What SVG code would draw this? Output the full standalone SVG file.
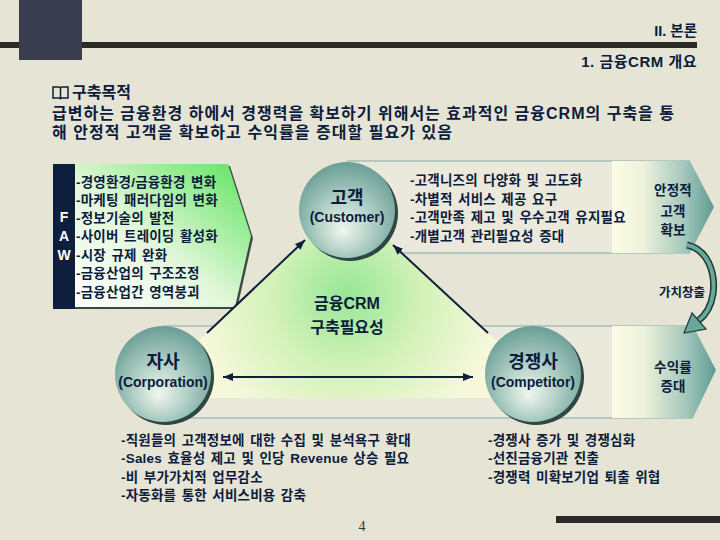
<svg xmlns="http://www.w3.org/2000/svg" width="720" height="540" viewBox="0 0 720 540">
<style>
.t{font-family:"Liberation Sans","Noto Sans CJK KR",sans-serif;font-weight:bold;fill:#0c1c3c}
.h{font-size:16px}
.s{font-size:13.5px;letter-spacing:0.2px;word-spacing:1.5px}
.c{text-anchor:middle}
.band{fill:#ebe9dc}
.bl{stroke:#a7beb5;stroke-width:1.5;fill:none}
.conn{stroke:#0f1e3a;stroke-width:2;fill:none}
.sh{fill:#2e4743}
</style>
<defs>
<marker id="ah" viewBox="0 0 10 8" refX="10" refY="4" markerWidth="10" markerHeight="8" markerUnits="userSpaceOnUse" orient="auto-start-reverse">
<path d="M0,0 L10,4 L0,8 z" fill="#0f1e3a"/>
</marker>
<radialGradient id="ball" cx="0.5" cy="0.6" r="0.6" fx="0.45" fy="0.72">
<stop offset="0" stop-color="#f0f7ee"/>
<stop offset="0.45" stop-color="#b4d2c8"/>
<stop offset="1" stop-color="#6a9e96"/>
</radialGradient>
<linearGradient id="faw" x1="0" y1="1" x2="1" y2="0">
<stop offset="0" stop-color="#ffffff"/>
<stop offset="0.45" stop-color="#e2f7da"/>
<stop offset="1" stop-color="#5ce35c"/>
</linearGradient>
<linearGradient id="panel" x1="0" y1="0" x2="1" y2="0">
<stop offset="0" stop-color="#fcfbe6"/>
<stop offset="0.3" stop-color="#eef3dc"/>
<stop offset="0.7" stop-color="#a5c8bd"/>
<stop offset="1" stop-color="#5e9c92"/>
</linearGradient>
<radialGradient id="tri" gradientUnits="userSpaceOnUse" cx="347" cy="295" r="150">
<stop offset="0" stop-color="#96e696"/>
<stop offset="0.5" stop-color="#d3f2b8"/>
<stop offset="1" stop-color="#f6f8dc"/>
</radialGradient>
</defs>

<rect width="720" height="540" fill="#e6e4d5"/>

<g id="header">
<rect x="19" y="0" width="63" height="60" fill="#3a3c50"/>
<rect x="0" y="42" width="697" height="6" fill="#2a2a26"/>
<rect x="19" y="42" width="63" height="6" fill="#3a3c50"/>
<text class="t" x="697" y="36" font-size="14.5" text-anchor="end">II. 본론</text>
<text class="t" x="697" y="67" font-size="15" letter-spacing="0.5" text-anchor="end">1. 금융CRM 개요</text>
<path d="M53 87 h6 q1.5 0 1.5 1.5 q0 -1.5 1.5 -1.5 h6 v11 h-6 q-1.5 0 -1.5 1.2 q0 -1.2 -1.5 -1.2 h-6 z M60.5 88.5 v10.5" stroke="#0c1c3c" stroke-width="1.5" fill="none"/>
<text class="t h" x="72" y="98">구축목적</text>
<text class="t h" x="52" y="119" textLength="622">급변하는 금융환경 하에서 경쟁력을 확보하기 위해서는 효과적인 금융CRM의 구축을 통</text>
<text class="t h" x="52" y="138" textLength="400">해 안정적 고객을 확보하고 수익률을 증대할 필요가 있음</text>
</g>

<g id="bands">
<rect class="band" x="347" y="161" width="265" height="92"/>
<path class="bl" d="M347 161 H690 M347 253 H690"/>
<rect class="band" x="163" y="326" width="449" height="92"/>
<path class="bl" d="M163 326 H693 M163 418 H693"/>
</g>

<g id="stable-customer">
<polygon points="612,161 690,161 714,207 690,253 612,253" fill="url(#panel)"/>
<text class="t s c" x="673" y="195">안정적</text>
<text class="t s c" x="673" y="216">고객</text>
<text class="t s c" x="673" y="235">확보</text>
</g>

<g id="profit">
<polygon points="612,326 693,326 716,370 693,418 612,418" fill="url(#panel)"/>
<text class="t s c" x="673" y="372">수익률</text>
<text class="t s c" x="673" y="391">증대</text>
</g>

<g id="faw">
<polygon points="55,166 230,166 253,238 237,309 55,309" fill="#3b4a3e"/>
<polygon points="75,164 228,164 251,236 235,307 75,307" fill="url(#faw)"/>
<rect x="53" y="164" width="22" height="145" fill="#0d1f3d"/>
<text class="t" x="64" y="222" font-size="14" text-anchor="middle" style="fill:#ffffff">F</text>
<text class="t" x="64" y="241" font-size="14" text-anchor="middle" style="fill:#ffffff">A</text>
<text class="t" x="64" y="260" font-size="14" text-anchor="middle" style="fill:#ffffff">W</text>
<text class="t s" x="76" y="187">-경영환경/금융환경 변화</text>
<text class="t s" x="76" y="205">-마케팅 패러다임의 변화</text>
<text class="t s" x="76" y="223">-정보기술의 발전</text>
<text class="t s" x="76" y="241">-사이버 트레이딩 활성화</text>
<text class="t s" x="76" y="260">-시장 규제 완화</text>
<text class="t s" x="76" y="278">-금융산업의 구조조정</text>
<text class="t s" x="76" y="297">-금융산업간 영역붕괴</text>
</g>

<g id="triangle">
<polygon points="347,201 138,398 558,398" fill="url(#tri)"/>
<text class="t h c" x="347" y="309">금융CRM</text>
<text class="t h c" x="347" y="333">구축필요성</text>
</g>

<g id="connectors">
<path class="conn" d="M207 333 L305 240" marker-end="url(#ah)"/>
<path class="conn" d="M488 333 L393 245" marker-end="url(#ah)"/>
<path class="conn" d="M223 377 L473 377" marker-start="url(#ah)" marker-end="url(#ah)"/>
</g>

<g id="customer">
<circle class="sh" cx="350" cy="213" r="48"/>
<circle cx="347" cy="210" r="48" fill="url(#ball)"/>
<text class="t c" x="347" y="204" font-size="18">고객</text>
<text class="t c" x="347" y="222" font-size="14">(Customer)</text>
</g>

<g id="corporation">
<circle class="sh" cx="166" cy="377" r="48"/>
<circle cx="163" cy="374" r="48" fill="url(#ball)"/>
<text class="t c" x="163" y="368" font-size="18">자사</text>
<text class="t c" x="163" y="387" font-size="14">(Corporation)</text>
</g>

<g id="competitor">
<circle class="sh" cx="536" cy="377" r="48"/>
<circle cx="533" cy="374" r="48" fill="url(#ball)"/>
<text class="t c" x="533" y="368" font-size="18">경쟁사</text>
<text class="t c" x="533" y="387" font-size="14">(Competitor)</text>
</g>

<g id="customer-needs">
<text class="t s" x="410" y="185">-고객니즈의 다양화 및 고도화</text>
<text class="t s" x="410" y="204">-차별적 서비스 제공 요구</text>
<text class="t s" x="410" y="222">-고객만족 제고 및 우수고객 유지필요</text>
<text class="t s" x="410" y="241">-개별고객 관리필요성 증대</text>
</g>

<g id="value-arrow">
<path d="M687 245 C707 249 716 272 713 294 C711 307 706 315 698 321" fill="none" stroke="#1f3a36" stroke-width="7"/>
<path d="M687 245 C707 249 716 272 713 294 C711 307 706 315 698 321" fill="none" stroke="#6aa89c" stroke-width="4"/>
<polygon points="684,333 692,313 706,329" fill="#6aa89c" stroke="#1f3a36" stroke-width="1.2"/>
<text class="t" x="705" y="297" font-size="12.5" text-anchor="end">가치창출</text>
</g>

<g id="corp-notes">
<text class="t s" x="121" y="445">-직원들의 고객정보에 대한 수집 및 분석욕구 확대</text>
<text class="t s" x="121" y="463">-Sales 효율성 제고 및 인당 Revenue 상승 필요</text>
<text class="t s" x="121" y="482">-비 부가가치적 업무감소</text>
<text class="t s" x="121" y="500">-자동화를 통한 서비스비용 감축</text>
</g>

<g id="comp-notes">
<text class="t s" x="488" y="445">-경쟁사 증가 및 경쟁심화</text>
<text class="t s" x="488" y="463">-선진금융기관 진출</text>
<text class="t s" x="488" y="482">-경쟁력 미확보기업 퇴출 위협</text>
</g>

<g id="footer">
<rect x="556" y="516" width="164" height="7" fill="#2a2a2a"/>
<text x="362" y="531" font-family="Liberation Serif, serif" font-size="14" fill="#333333" text-anchor="middle">4</text>
</g>
</svg>
